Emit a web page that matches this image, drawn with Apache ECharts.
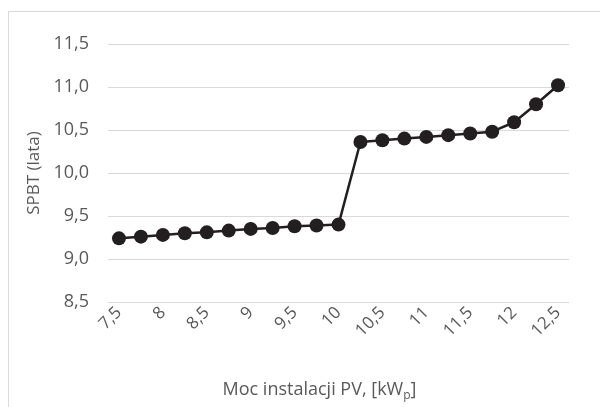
<!DOCTYPE html>
<html lang="pl">
<head>
<meta charset="UTF-8">
<title>SPBT</title>
<style>
html, body { margin: 0; padding: 0; background: #fff; }
#chart { width: 600px; height: 407px; }
</style>
</head>
<body>
<div id="chart"></div>
<script src="https://cdn.jsdelivr.net/npm/echarts@6/dist/echarts.min.js"></script>
<script>
// moc instalacji PV [kWp]
var categories = ['7,5', '7,75', '8', '8,25', '8,5', '8,75', '9', '9,25', '9,5', '9,75', '10',
                  '10,25', '10,5', '10,75', '11', '11,25', '11,5', '11,75', '12', '12,25', '12,5'];
// SPBT [lata]
var spbt = [9.24, 9.26, 9.28, 9.30, 9.31, 9.33, 9.35, 9.36, 9.38, 9.39, 9.40,
            10.36, 10.38, 10.40, 10.42, 10.44, 10.46, 10.48, 10.59, 10.80, 11.02];
var yTicks = { min: 8.5, max: 11.5, step: 0.5 };

var grey = '#595959';
var font = '"Open Sans", "Noto Sans", sans-serif';

var chart = echarts.init(document.getElementById('chart'));
chart.setOption({
    animation: false,
    graphic: [{
        type: 'rect',
        shape: { x: 8.5, y: 11.5, width: 620, height: 420 },
        style: { fill: 'none', stroke: '#d9d9d9', lineWidth: 1 }
    }],
    grid: { left: 108, right: 31, top: 44, bottom: 105 },
    xAxis: {
        type: 'category',
        data: categories,
        boundaryGap: true,
        axisLine: { show: false },
        axisTick: { show: false },
        axisLabel: {
            interval: 1,
            rotate: 45,
            margin: 8,
            color: grey,
            fontSize: 17,
            fontFamily: font
        },
        name: 'Moc instalacji PV, [kW{sub|p}]',
        nameLocation: 'middle',
        nameGap: 76,
        nameTextStyle: {
            color: grey,
            fontSize: 18,
            fontFamily: font,
            padding: [0, 38, 0, 0],
            rich: {
                sub: { fontSize: 12, color: grey, fontFamily: font, padding: [12, 0, 0, 0] }
            }
        }
    },
    yAxis: {
        type: 'value',
        min: yTicks.min,
        max: yTicks.max,
        interval: yTicks.step,
        axisLine: { show: false },
        axisTick: { show: false },
        splitLine: { lineStyle: { color: '#d9d9d9', width: 1 } },
        axisLabel: {
            color: grey,
            fontSize: 18,
            fontFamily: font,
            margin: 19,
            formatter: function (v) { return v.toFixed(1).replace('.', ','); }
        },
        name: 'SPBT (lata)',
        nameLocation: 'middle',
        nameGap: 65,
        nameRotate: 90,
        nameTextStyle: { color: grey, fontSize: 17, fontFamily: font }
    },
    series: [{
        type: 'line',
        data: spbt,
        symbol: 'circle',
        symbolSize: 14,
        lineStyle: { color: '#231f20', width: 2.5 },
        itemStyle: { color: '#231f20' }
    }]
});
</script>
</body>
</html>
